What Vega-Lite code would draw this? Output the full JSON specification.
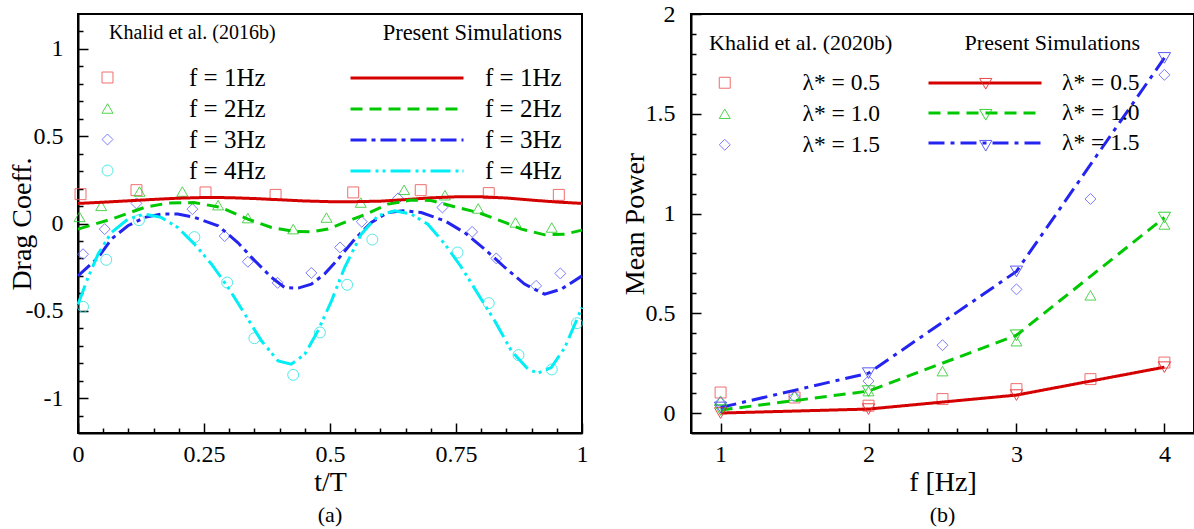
{
  "$schema": "https://vega.github.io/schema/vega-lite/v6.json",
  "background": "white",
  "padding": {"left": 7, "top": 1, "right": 0, "bottom": 0},
  "spacing": 31,
  "config": {
    "font": "Liberation Serif, Times New Roman, serif",
    "view": {"stroke": "black", "strokeWidth": 2},
    "axis": {
      "domainColor": "black", "domainWidth": 2, "tickColor": "black", "tickWidth": 1.5,
      "labelColor": "black", "titleColor": "black", "labelFontSize": 24, "titleFontSize": 28,
      "titleFontWeight": "normal", "labelFont": "Liberation Serif, Times New Roman, serif", "titleFont": "Liberation Serif, Times New Roman, serif",
      "grid": false, "labelFlush": false, "labelOverlap": false
    },
    "legend": {
      "padding": 0, "labelFont": "Liberation Serif, Times New Roman, serif", "titleFont": "Liberation Serif, Times New Roman, serif",
      "titleFontWeight": "normal", "labelFontSize": 25, "titleFontSize": 20, "titleLimit": 400, "labelLimit": 300,
      "labelColor": "black", "titleColor": "black"
    },
    "title": {"font": "Liberation Serif, Times New Roman, serif", "fontWeight": "normal", "fontSize": 22, "color": "black"}
  },
  "datasets": {
    "dragKhalid": [
      {"t": 0.005, "cd": 0.168, "series": "f = 1Hz"},
      {"t": 0.116, "cd": 0.191, "series": "f = 1Hz"},
      {"t": 0.253, "cd": 0.178, "series": "f = 1Hz"},
      {"t": 0.392, "cd": 0.164, "series": "f = 1Hz"},
      {"t": 0.546, "cd": 0.178, "series": "f = 1Hz"},
      {"t": 0.68, "cd": 0.191, "series": "f = 1Hz"},
      {"t": 0.815, "cd": 0.174, "series": "f = 1Hz"},
      {"t": 0.954, "cd": 0.164, "series": "f = 1Hz"},
      {"t": 0.003, "cd": 0.038, "series": "f = 2Hz"},
      {"t": 0.046, "cd": 0.101, "series": "f = 2Hz"},
      {"t": 0.122, "cd": 0.183, "series": "f = 2Hz"},
      {"t": 0.207, "cd": 0.183, "series": "f = 2Hz"},
      {"t": 0.278, "cd": 0.105, "series": "f = 2Hz"},
      {"t": 0.337, "cd": 0.031, "series": "f = 2Hz"},
      {"t": 0.427, "cd": -0.032, "series": "f = 2Hz"},
      {"t": 0.493, "cd": 0.034, "series": "f = 2Hz"},
      {"t": 0.561, "cd": 0.12, "series": "f = 2Hz"},
      {"t": 0.647, "cd": 0.193, "series": "f = 2Hz"},
      {"t": 0.728, "cd": 0.162, "series": "f = 2Hz"},
      {"t": 0.794, "cd": 0.086, "series": "f = 2Hz"},
      {"t": 0.868, "cd": 0.006, "series": "f = 2Hz"},
      {"t": 0.94, "cd": -0.023, "series": "f = 2Hz"},
      {"t": 0.01, "cd": -0.176, "series": "f = 3Hz"},
      {"t": 0.053, "cd": -0.032, "series": "f = 3Hz"},
      {"t": 0.116, "cd": 0.115, "series": "f = 3Hz"},
      {"t": 0.227, "cd": 0.082, "series": "f = 3Hz"},
      {"t": 0.291, "cd": -0.072, "series": "f = 3Hz"},
      {"t": 0.337, "cd": -0.219, "series": "f = 3Hz"},
      {"t": 0.396, "cd": -0.34, "series": "f = 3Hz"},
      {"t": 0.463, "cd": -0.283, "series": "f = 3Hz"},
      {"t": 0.52, "cd": -0.137, "series": "f = 3Hz"},
      {"t": 0.563, "cd": 0.01, "series": "f = 3Hz"},
      {"t": 0.635, "cd": 0.144, "series": "f = 3Hz"},
      {"t": 0.723, "cd": 0.092, "series": "f = 3Hz"},
      {"t": 0.782, "cd": -0.048, "series": "f = 3Hz"},
      {"t": 0.83, "cd": -0.2, "series": "f = 3Hz"},
      {"t": 0.909, "cd": -0.357, "series": "f = 3Hz"},
      {"t": 0.957, "cd": -0.286, "series": "f = 3Hz"},
      {"t": 0.01, "cd": -0.477, "series": "f = 4Hz"},
      {"t": 0.056, "cd": -0.208, "series": "f = 4Hz"},
      {"t": 0.121, "cd": 0.019, "series": "f = 4Hz"},
      {"t": 0.231, "cd": -0.078, "series": "f = 4Hz"},
      {"t": 0.296, "cd": -0.338, "series": "f = 4Hz"},
      {"t": 0.35, "cd": -0.657, "series": "f = 4Hz"},
      {"t": 0.427, "cd": -0.867, "series": "f = 4Hz"},
      {"t": 0.48, "cd": -0.624, "series": "f = 4Hz"},
      {"t": 0.534, "cd": -0.351, "series": "f = 4Hz"},
      {"t": 0.584, "cd": -0.092, "series": "f = 4Hz"},
      {"t": 0.753, "cd": -0.166, "series": "f = 4Hz"},
      {"t": 0.815, "cd": -0.456, "series": "f = 4Hz"},
      {"t": 0.874, "cd": -0.754, "series": "f = 4Hz"},
      {"t": 0.94, "cd": -0.836, "series": "f = 4Hz"},
      {"t": 0.99, "cd": -0.571, "series": "f = 4Hz"}
    ],
    "dragPresent": [
      {"t": 0, "cd": 0.115, "series": "f = 1Hz"},
      {"t": 0.05, "cd": 0.122, "series": "f = 1Hz"},
      {"t": 0.1, "cd": 0.13, "series": "f = 1Hz"},
      {"t": 0.15, "cd": 0.138, "series": "f = 1Hz"},
      {"t": 0.2, "cd": 0.145, "series": "f = 1Hz"},
      {"t": 0.25, "cd": 0.149, "series": "f = 1Hz"},
      {"t": 0.3, "cd": 0.148, "series": "f = 1Hz"},
      {"t": 0.35, "cd": 0.143, "series": "f = 1Hz"},
      {"t": 0.4, "cd": 0.136, "series": "f = 1Hz"},
      {"t": 0.45, "cd": 0.129, "series": "f = 1Hz"},
      {"t": 0.5, "cd": 0.125, "series": "f = 1Hz"},
      {"t": 0.55, "cd": 0.125, "series": "f = 1Hz"},
      {"t": 0.6, "cd": 0.128, "series": "f = 1Hz"},
      {"t": 0.65, "cd": 0.137, "series": "f = 1Hz"},
      {"t": 0.7, "cd": 0.147, "series": "f = 1Hz"},
      {"t": 0.75, "cd": 0.153, "series": "f = 1Hz"},
      {"t": 0.8, "cd": 0.153, "series": "f = 1Hz"},
      {"t": 0.85, "cd": 0.146, "series": "f = 1Hz"},
      {"t": 0.9, "cd": 0.134, "series": "f = 1Hz"},
      {"t": 0.95, "cd": 0.123, "series": "f = 1Hz"},
      {"t": 1, "cd": 0.115, "series": "f = 1Hz"},
      {"t": 0, "cd": -0.032, "series": "f = 2Hz"},
      {"t": 0.066, "cd": 0.025, "series": "f = 2Hz"},
      {"t": 0.132, "cd": 0.092, "series": "f = 2Hz"},
      {"t": 0.18, "cd": 0.118, "series": "f = 2Hz"},
      {"t": 0.23, "cd": 0.12, "series": "f = 2Hz"},
      {"t": 0.284, "cd": 0.092, "series": "f = 2Hz"},
      {"t": 0.337, "cd": 0.025, "series": "f = 2Hz"},
      {"t": 0.384, "cd": -0.023, "series": "f = 2Hz"},
      {"t": 0.43, "cd": -0.046, "series": "f = 2Hz"},
      {"t": 0.463, "cd": -0.048, "series": "f = 2Hz"},
      {"t": 0.496, "cd": -0.032, "series": "f = 2Hz"},
      {"t": 0.529, "cd": 0.006, "series": "f = 2Hz"},
      {"t": 0.575, "cd": 0.058, "series": "f = 2Hz"},
      {"t": 0.615, "cd": 0.111, "series": "f = 2Hz"},
      {"t": 0.661, "cd": 0.134, "series": "f = 2Hz"},
      {"t": 0.7, "cd": 0.132, "series": "f = 2Hz"},
      {"t": 0.747, "cd": 0.096, "series": "f = 2Hz"},
      {"t": 0.794, "cd": 0.063, "series": "f = 2Hz"},
      {"t": 0.847, "cd": 0.006, "series": "f = 2Hz"},
      {"t": 0.88, "cd": -0.032, "series": "f = 2Hz"},
      {"t": 0.926, "cd": -0.065, "series": "f = 2Hz"},
      {"t": 0.966, "cd": -0.061, "series": "f = 2Hz"},
      {"t": 1, "cd": -0.038, "series": "f = 2Hz"},
      {"t": 0, "cd": -0.3, "series": "f = 3Hz"},
      {"t": 0.04, "cd": -0.195, "series": "f = 3Hz"},
      {"t": 0.066, "cd": -0.09, "series": "f = 3Hz"},
      {"t": 0.099, "cd": -0.013, "series": "f = 3Hz"},
      {"t": 0.132, "cd": 0.035, "series": "f = 3Hz"},
      {"t": 0.165, "cd": 0.054, "series": "f = 3Hz"},
      {"t": 0.198, "cd": 0.054, "series": "f = 3Hz"},
      {"t": 0.231, "cd": 0.035, "series": "f = 3Hz"},
      {"t": 0.278, "cd": -0.013, "series": "f = 3Hz"},
      {"t": 0.317, "cd": -0.109, "series": "f = 3Hz"},
      {"t": 0.351, "cd": -0.214, "series": "f = 3Hz"},
      {"t": 0.384, "cd": -0.309, "series": "f = 3Hz"},
      {"t": 0.41, "cd": -0.367, "series": "f = 3Hz"},
      {"t": 0.437, "cd": -0.37, "series": "f = 3Hz"},
      {"t": 0.463, "cd": -0.347, "series": "f = 3Hz"},
      {"t": 0.489, "cd": -0.29, "series": "f = 3Hz"},
      {"t": 0.516, "cd": -0.204, "series": "f = 3Hz"},
      {"t": 0.549, "cd": -0.09, "series": "f = 3Hz"},
      {"t": 0.582, "cd": 0.006, "series": "f = 3Hz"},
      {"t": 0.615, "cd": 0.063, "series": "f = 3Hz"},
      {"t": 0.645, "cd": 0.073, "series": "f = 3Hz"},
      {"t": 0.681, "cd": 0.063, "series": "f = 3Hz"},
      {"t": 0.728, "cd": 0.015, "series": "f = 3Hz"},
      {"t": 0.767, "cd": -0.052, "series": "f = 3Hz"},
      {"t": 0.807, "cd": -0.147, "series": "f = 3Hz"},
      {"t": 0.847, "cd": -0.252, "series": "f = 3Hz"},
      {"t": 0.886, "cd": -0.347, "series": "f = 3Hz"},
      {"t": 0.926, "cd": -0.405, "series": "f = 3Hz"},
      {"t": 0.959, "cd": -0.376, "series": "f = 3Hz"},
      {"t": 1, "cd": -0.3, "series": "f = 3Hz"},
      {"t": 0, "cd": -0.462, "series": "f = 4Hz"},
      {"t": 0.02, "cd": -0.309, "series": "f = 4Hz"},
      {"t": 0.04, "cd": -0.175, "series": "f = 4Hz"},
      {"t": 0.066, "cd": -0.052, "series": "f = 4Hz"},
      {"t": 0.099, "cd": 0.025, "series": "f = 4Hz"},
      {"t": 0.132, "cd": 0.054, "series": "f = 4Hz"},
      {"t": 0.165, "cd": 0.035, "series": "f = 4Hz"},
      {"t": 0.198, "cd": -0.023, "series": "f = 4Hz"},
      {"t": 0.231, "cd": -0.118, "series": "f = 4Hz"},
      {"t": 0.265, "cd": -0.233, "series": "f = 4Hz"},
      {"t": 0.298, "cd": -0.367, "series": "f = 4Hz"},
      {"t": 0.331, "cd": -0.519, "series": "f = 4Hz"},
      {"t": 0.364, "cd": -0.672, "series": "f = 4Hz"},
      {"t": 0.397, "cd": -0.787, "series": "f = 4Hz"},
      {"t": 0.423, "cd": -0.806, "series": "f = 4Hz"},
      {"t": 0.45, "cd": -0.749, "series": "f = 4Hz"},
      {"t": 0.476, "cd": -0.615, "series": "f = 4Hz"},
      {"t": 0.503, "cd": -0.443, "series": "f = 4Hz"},
      {"t": 0.529, "cd": -0.252, "series": "f = 4Hz"},
      {"t": 0.562, "cd": -0.061, "series": "f = 4Hz"},
      {"t": 0.595, "cd": 0.044, "series": "f = 4Hz"},
      {"t": 0.628, "cd": 0.073, "series": "f = 4Hz"},
      {"t": 0.661, "cd": 0.054, "series": "f = 4Hz"},
      {"t": 0.694, "cd": -0.004, "series": "f = 4Hz"},
      {"t": 0.728, "cd": -0.118, "series": "f = 4Hz"},
      {"t": 0.761, "cd": -0.252, "series": "f = 4Hz"},
      {"t": 0.794, "cd": -0.405, "series": "f = 4Hz"},
      {"t": 0.827, "cd": -0.558, "series": "f = 4Hz"},
      {"t": 0.86, "cd": -0.73, "series": "f = 4Hz"},
      {"t": 0.893, "cd": -0.835, "series": "f = 4Hz"},
      {"t": 0.913, "cd": -0.857, "series": "f = 4Hz"},
      {"t": 0.939, "cd": -0.825, "series": "f = 4Hz"},
      {"t": 0.966, "cd": -0.71, "series": "f = 4Hz"},
      {"t": 1, "cd": -0.481, "series": "f = 4Hz"}
    ],
    "powerKhalid": [
      {"f": 1, "power": 0.103, "series": "λ* = 0.5"},
      {"f": 1.5, "power": 0.078, "series": "λ* = 0.5"},
      {"f": 2, "power": 0.037, "series": "λ* = 0.5"},
      {"f": 2.5, "power": 0.07, "series": "λ* = 0.5"},
      {"f": 3, "power": 0.12, "series": "λ* = 0.5"},
      {"f": 3.5, "power": 0.17, "series": "λ* = 0.5"},
      {"f": 4, "power": 0.253, "series": "λ* = 0.5"},
      {"f": 1, "power": 0.062, "series": "λ* = 1.0"},
      {"f": 1.5, "power": 0.087, "series": "λ* = 1.0"},
      {"f": 2, "power": 0.11, "series": "λ* = 1.0"},
      {"f": 2.5, "power": 0.21, "series": "λ* = 1.0"},
      {"f": 3, "power": 0.36, "series": "λ* = 1.0"},
      {"f": 3.5, "power": 0.59, "series": "λ* = 1.0"},
      {"f": 4, "power": 0.945, "series": "λ* = 1.0"},
      {"f": 1, "power": 0.053, "series": "λ* = 1.5"},
      {"f": 1.5, "power": 0.082, "series": "λ* = 1.5"},
      {"f": 2, "power": 0.16, "series": "λ* = 1.5"},
      {"f": 2.5, "power": 0.34, "series": "λ* = 1.5"},
      {"f": 3, "power": 0.62, "series": "λ* = 1.5"},
      {"f": 3.5, "power": 1.073, "series": "λ* = 1.5"},
      {"f": 4, "power": 1.695, "series": "λ* = 1.5"}
    ],
    "powerPresent": [
      {"f": 1, "power": 0.0, "series": "λ* = 0.5"},
      {"f": 2, "power": 0.02, "series": "λ* = 0.5"},
      {"f": 3, "power": 0.09, "series": "λ* = 0.5"},
      {"f": 4, "power": 0.23, "series": "λ* = 0.5"},
      {"f": 1, "power": 0.015, "series": "λ* = 1.0"},
      {"f": 2, "power": 0.11, "series": "λ* = 1.0"},
      {"f": 3, "power": 0.39, "series": "λ* = 1.0"},
      {"f": 4, "power": 0.98, "series": "λ* = 1.0"},
      {"f": 1, "power": 0.028, "series": "λ* = 1.5"},
      {"f": 2, "power": 0.2, "series": "λ* = 1.5"},
      {"f": 3, "power": 0.71, "series": "λ* = 1.5"},
      {"f": 4, "power": 1.78, "series": "λ* = 1.5"}
    ]
  },
  "hconcat": [
    {
      "width": 504,
      "height": 419,
      "title": {"text": "(a)", "orient": "bottom", "anchor": "middle", "offset": 9},
      "layer": [
        {
          "data": {"name": "dragKhalid"},
          "mark": {"type": "point", "filled": false, "size": 120, "strokeWidth": 1, "opacity": 0.85},
          "encoding": {
            "x": {"field": "t", "type": "quantitative", "scale": {"domain": [0, 1], "nice": false, "zero": false},
              "axis": {"orient": "bottom", "values": [0.05,0.1,0.15,0.2,0.3,0.35,0.4,0.45,0.55,0.6,0.65,0.7,0.8,0.85,0.9,0.95], "labels": false, "domain": false, "tickSize": -5, "title": null}},
            "y": {"field": "cd", "type": "quantitative", "scale": {"domain": [-1.2, 1.2], "nice": false, "zero": false},
              "axis": {"orient": "left", "values": [-1.1,-0.9,-0.8,-0.7,-0.6,-0.4,-0.3,-0.2,-0.1,0.1,0.2,0.3,0.4,0.6,0.7,0.8,0.9,1.1], "labels": false, "domain": false, "tickSize": -5, "title": null}},
            "color": {"field": "series", "type": "nominal", "scale": {"range": ["#ee5555", "#33cc33", "#6666ff", "#33e6e6"]},
              "legend": {"title": "Khalid et al. (2016b)", "orient": "none", "legendX": 31, "legendY": 9, "titlePadding": 22, "rowPadding": 5, "symbolOffset": -14, "labelOffset": 69, "symbolSize": 120, "symbolStrokeWidth": 1}},
            "shape": {"field": "series", "type": "nominal", "scale": {"range": ["square", "triangle-up", "diamond", "circle"]},
              "legend": {"title": "Khalid et al. (2016b)", "orient": "none", "legendX": 31, "legendY": 9, "titlePadding": 22, "rowPadding": 5, "symbolOffset": -14, "labelOffset": 69, "symbolSize": 120, "symbolStrokeWidth": 1}}
          }
        },
        {
          "data": {"name": "dragPresent"},
          "mark": {"type": "line", "strokeWidth": 3},
          "encoding": {
            "x": {"field": "t", "type": "quantitative", "scale": {"domain": [0, 1], "nice": false, "zero": false},
              "axis": {"orient": "bottom", "values": [0, 0.25, 0.5, 0.75, 1], "labelExpr": "format(datum.value, '~g')", "tickSize": -10, "labelPadding": 19, "title": "t/T", "titlePadding": 2}},
            "y": {"field": "cd", "type": "quantitative", "scale": {"domain": [-1.2, 1.2], "nice": false, "zero": false},
              "axis": {"orient": "left", "values": [-1, -0.5, 0, 0.5, 1], "labelExpr": "datum.value < 0 ? '-' + format(-datum.value, '~g') : format(datum.value, '~g')", "tickSize": -10, "labelPadding": 25, "title": "Drag Coeff.", "titleX": -42}},
            "color": {"field": "series", "type": "nominal", "scale": {"range": ["#d40000", "#00c800", "#2424f0", "#00eef4"]},
              "legend": {"title": "Present Simulations", "orient": "none", "legendX": 271, "legendY": 8, "titleAnchor": "end", "titleFontSize": 22.5, "titlePadding": 21, "rowPadding": 5, "labelOffset": 20, "symbolType": "stroke", "symbolSize": 12769, "symbolStrokeWidth": 3, "clipHeight": 25}},
            "strokeDash": {"field": "series", "type": "nominal", "scale": {"range": [[1, 0], [12, 7], [16, 5, 4, 5], [20, 5, 3, 4, 3, 5]]},
              "legend": {"title": "Present Simulations", "orient": "none", "legendX": 271, "legendY": 8, "titleAnchor": "end", "titleFontSize": 22.5, "titlePadding": 21, "rowPadding": 5, "labelOffset": 20, "symbolType": "stroke", "symbolSize": 12769, "symbolStrokeWidth": 3, "clipHeight": 25}}
          }
        }
      ],
      "resolve": {"scale": {"color": "independent", "shape": "independent", "strokeDash": "independent"}, "axis": {"x": "independent", "y": "independent"}}
    },
    {
      "width": 503,
      "height": 419,
      "title": {"text": "(b)", "orient": "bottom", "anchor": "middle", "offset": 9},
      "layer": [
        {
          "data": {"name": "powerKhalid"},
          "mark": {"type": "point", "filled": false, "size": 120, "strokeWidth": 1, "opacity": 0.85},
          "encoding": {
            "x": {"field": "f", "type": "quantitative", "scale": {"domain": [0.8, 4.2], "nice": false, "zero": false},
              "axis": {"orient": "bottom", "values": [1.2,1.4,1.6,1.8,2.2,2.4,2.6,2.8,3.2,3.4,3.6,3.8], "labels": false, "domain": false, "tickSize": -5, "title": null}},
            "y": {"field": "power", "type": "quantitative", "scale": {"domain": [-0.1, 2], "nice": false, "zero": false},
              "axis": {"orient": "left", "values": [0.1,0.2,0.3,0.4,0.6,0.7,0.8,0.9,1.1,1.2,1.3,1.4,1.6,1.7,1.8,1.9], "labels": false, "domain": false, "tickSize": -5, "title": null}},
            "color": {"field": "series", "type": "nominal", "scale": {"range": ["#ee5555", "#33cc33", "#6666ff"]},
              "legend": {"title": "Khalid et al. (2020b)", "orient": "none", "legendX": 18, "legendY": 19, "titleFontSize": 22, "labelFontSize": 23.5, "titlePadding": 16, "rowPadding": 6, "symbolOffset": 4, "labelOffset": 66, "symbolSize": 120, "symbolStrokeWidth": 1}},
            "shape": {"field": "series", "type": "nominal", "scale": {"range": ["square", "triangle-up", "diamond"]},
              "legend": {"title": "Khalid et al. (2020b)", "orient": "none", "legendX": 18, "legendY": 19, "titleFontSize": 22, "labelFontSize": 23.5, "titlePadding": 16, "rowPadding": 6, "symbolOffset": 4, "labelOffset": 66, "symbolSize": 120, "symbolStrokeWidth": 1}}
          }
        },
        {
          "data": {"name": "powerPresent"},
          "mark": {"type": "line", "strokeWidth": 3},
          "encoding": {
            "x": {"field": "f", "type": "quantitative", "scale": {"domain": [0.8, 4.2], "nice": false, "zero": false},
              "axis": {"orient": "bottom", "values": [1, 2, 3, 4], "labelExpr": "format(datum.value, '~g')", "tickSize": -10, "labelPadding": 19, "title": "f [Hz]", "titlePadding": 2}},
            "y": {"field": "power", "type": "quantitative", "scale": {"domain": [-0.1, 2], "nice": false, "zero": false},
              "axis": {"orient": "left", "values": [0, 0.5, 1, 1.5, 2], "labelExpr": "format(datum.value, '~g')", "tickSize": -10, "labelPadding": 26, "title": "Mean Power", "titleX": -42}},
            "color": {"field": "series", "type": "nominal", "scale": {"range": ["#d40000", "#00c800", "#2424f0"]},
              "legend": {"title": "Present Simulations", "orient": "none", "legendX": 236, "legendY": 19, "titleAnchor": "end", "titleFontSize": 22, "labelFontSize": 23.5, "titlePadding": 16, "rowPadding": 6, "labelOffset": 19, "symbolType": "stroke", "symbolSize": 12769, "symbolStrokeWidth": 3, "clipHeight": 24}},
            "strokeDash": {"field": "series", "type": "nominal", "scale": {"range": [[1, 0], [12, 7], [16, 6, 4, 6]]},
              "legend": {"title": "Present Simulations", "orient": "none", "legendX": 236, "legendY": 19, "titleAnchor": "end", "titleFontSize": 22, "labelFontSize": 23.5, "titlePadding": 16, "rowPadding": 6, "labelOffset": 19, "symbolType": "stroke", "symbolSize": 12769, "symbolStrokeWidth": 3, "clipHeight": 24}}
          }
        },
        {
          "data": {"name": "powerPresent"},
          "mark": {"type": "point", "shape": "triangle-down", "filled": false, "size": 150, "strokeWidth": 1, "opacity": 0.9},
          "encoding": {
            "x": {"field": "f", "type": "quantitative", "axis": null},
            "y": {"field": "power", "type": "quantitative", "axis": null},
            "color": {"field": "series", "type": "nominal", "scale": {"range": ["#e83030", "#22cc22", "#4a4af8"]},
              "legend": {"title": null, "labelExpr": "' '", "labelFontSize": 23.5, "orient": "none", "legendX": 283, "legendY": 58, "rowPadding": 6, "labelOffset": 0, "symbolType": "triangle-down", "symbolSize": 150, "symbolStrokeWidth": 1}}
          }
        }
      ],
      "resolve": {"scale": {"color": "independent", "shape": "independent", "strokeDash": "independent"}, "axis": {"x": "independent", "y": "independent"}}
    }
  ]
}
